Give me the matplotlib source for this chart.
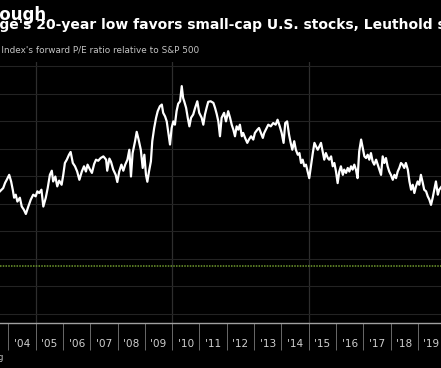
import numpy as np
import matplotlib
matplotlib.use("Agg")
import matplotlib.pyplot as plt

# Russell 2000 forward P/E relative to S&P 500
years = [2003.69, 2003.81, 2003.88, 2003.94, 2004.00, 2004.03, 2004.10, 2004.16, 2004.21, 2004.27,
         2004.33, 2004.42, 2004.49, 2004.57, 2004.64, 2004.73, 2004.82, 2004.91, 2005.00, 2005.06,
         2005.13, 2005.21, 2005.28, 2005.37, 2005.44, 2005.52, 2005.59, 2005.64, 2005.72, 2005.79,
         2005.86, 2005.95, 2006.01, 2006.07, 2006.14, 2006.22, 2006.28, 2006.36, 2006.44, 2006.52,
         2006.60, 2006.69, 2006.77, 2006.84, 2006.90, 2006.99, 2007.06, 2007.14, 2007.21, 2007.29,
         2007.38, 2007.48, 2007.58, 2007.62, 2007.70, 2007.76, 2007.84, 2007.93, 2007.99, 2008.06,
         2008.14, 2008.21, 2008.28, 2008.36, 2008.43, 2008.49, 2008.55, 2008.64, 2008.70, 2008.77,
         2008.85, 2008.92, 2008.98, 2009.04, 2009.09, 2009.15, 2009.22, 2009.27, 2009.34, 2009.41,
         2009.47, 2009.55, 2009.62, 2009.67, 2009.74, 2009.80, 2009.86, 2009.92, 2009.98, 2010.04,
         2010.10, 2010.16, 2010.22, 2010.29, 2010.35, 2010.40, 2010.44, 2010.51, 2010.57, 2010.63,
         2010.69, 2010.77, 2010.84, 2010.92, 2010.99, 2011.08, 2011.14, 2011.20, 2011.26, 2011.32,
         2011.41, 2011.51, 2011.57, 2011.63, 2011.69, 2011.75, 2011.81, 2011.90, 2011.97, 2012.05,
         2012.12, 2012.18, 2012.24, 2012.30, 2012.36, 2012.42, 2012.48, 2012.55, 2012.60, 2012.67,
         2012.75, 2012.81, 2012.89, 2012.97, 2013.03, 2013.12, 2013.18, 2013.25, 2013.32, 2013.37,
         2013.46, 2013.52, 2013.61, 2013.70, 2013.79, 2013.86, 2013.94, 2014.01, 2014.08, 2014.14,
         2014.21, 2014.28, 2014.34, 2014.40, 2014.47, 2014.53, 2014.60, 2014.66, 2014.72, 2014.78,
         2014.84, 2014.90, 2014.96, 2015.02, 2015.08, 2015.15, 2015.21, 2015.27, 2015.33, 2015.39,
         2015.45, 2015.51, 2015.57, 2015.63, 2015.70, 2015.75, 2015.82, 2015.88, 2015.94, 2016.00,
         2016.06, 2016.12, 2016.18, 2016.25, 2016.30, 2016.37, 2016.43, 2016.49, 2016.55, 2016.61,
         2016.67, 2016.73, 2016.79, 2016.85, 2016.92, 2016.98, 2017.04, 2017.10, 2017.16, 2017.22,
         2017.28, 2017.34, 2017.40, 2017.47, 2017.53, 2017.59, 2017.65, 2017.71, 2017.77, 2017.83,
         2017.89, 2017.95, 2018.01, 2018.08, 2018.14, 2018.20, 2018.26, 2018.32, 2018.38, 2018.44,
         2018.50, 2018.56, 2018.63, 2018.69, 2018.75, 2018.81, 2018.87, 2018.93, 2018.99, 2019.05,
         2019.11, 2019.18, 2019.23, 2019.30, 2019.36, 2019.42, 2019.48, 2019.54, 2019.60, 2019.66,
         2019.73, 2019.78, 2019.87]
rel_pe = [1.245, 1.257, 1.276, 1.287, 1.299, 1.305, 1.281, 1.251, 1.222, 1.233,
          1.208, 1.222, 1.190, 1.178, 1.163, 1.190, 1.215, 1.233, 1.227, 1.245,
          1.239, 1.251, 1.190, 1.222, 1.257, 1.305, 1.320, 1.281, 1.299, 1.263,
          1.284, 1.269, 1.305, 1.348, 1.360, 1.378, 1.388, 1.348, 1.336, 1.317,
          1.287, 1.317, 1.336, 1.317, 1.342, 1.324, 1.312, 1.344, 1.360, 1.356,
          1.366, 1.372, 1.360, 1.320, 1.364, 1.352, 1.324, 1.305, 1.279, 1.317,
          1.342, 1.320, 1.342, 1.360, 1.396, 1.299, 1.384, 1.427, 1.461, 1.433,
          1.396, 1.330, 1.378, 1.305, 1.280, 1.317, 1.354, 1.427, 1.475, 1.512,
          1.536, 1.554, 1.560, 1.530, 1.517, 1.499, 1.457, 1.415, 1.475, 1.499,
          1.487, 1.536, 1.563, 1.572, 1.627, 1.584, 1.572, 1.548, 1.512, 1.481,
          1.512, 1.524, 1.548, 1.572, 1.530, 1.512, 1.487, 1.524, 1.548, 1.570,
          1.572, 1.566, 1.548, 1.526, 1.499, 1.445, 1.512, 1.530, 1.499, 1.536,
          1.512, 1.487, 1.469, 1.445, 1.481, 1.469, 1.487, 1.445, 1.457, 1.439,
          1.421, 1.433, 1.445, 1.433, 1.457, 1.469, 1.475, 1.457, 1.439, 1.457,
          1.475, 1.487, 1.481, 1.493, 1.487, 1.505, 1.481, 1.457, 1.421, 1.493,
          1.499, 1.451, 1.421, 1.396, 1.427, 1.396, 1.378, 1.384, 1.348, 1.360,
          1.336, 1.342, 1.317, 1.293, 1.336, 1.384, 1.421, 1.408, 1.396, 1.408,
          1.421, 1.390, 1.360, 1.384, 1.366, 1.360, 1.372, 1.336, 1.348, 1.317,
          1.275, 1.317, 1.336, 1.305, 1.324, 1.312, 1.330, 1.317, 1.336, 1.324,
          1.342, 1.324, 1.293, 1.390, 1.433, 1.403, 1.372, 1.366, 1.378, 1.360,
          1.384, 1.354, 1.342, 1.360, 1.342, 1.324, 1.305, 1.372, 1.348, 1.366,
          1.336, 1.317, 1.305, 1.287, 1.305, 1.293, 1.317, 1.330, 1.348, 1.342,
          1.330, 1.348, 1.324, 1.281, 1.251, 1.269, 1.239, 1.263, 1.281, 1.269,
          1.305, 1.275, 1.251, 1.245, 1.227, 1.215, 1.196, 1.221, 1.251, 1.281,
          1.233, 1.251, 1.263]
ref_level = 0.975
grid_vals = [0.8, 0.9, 1.0, 1.1, 1.2, 1.3, 1.4, 1.5, 1.6, 1.7]
year_ticks = list(range(2004, 2020))
year_labels = ["'04", "'05", "'06", "'07", "'08", "'09", "'10", "'11", "'12", "'13",
               "'14", "'15", "'16", "'17", "'18", "'19"]

W, H = 441, 368
fig = plt.figure(figsize=(W / 100, H / 100), dpi=100, facecolor='black')
ax = fig.add_axes([0, 1 - 322.7 / H, 1, (322.7 - 62) / H])
ax.set_facecolor('black')

ax.set_xlim(2003.693, 2019.846)
ax.set_ylim(0.7684, 1.7145)

ax.set_yticks(grid_vals)
ax.yaxis.grid(True, color='#232323', lw=0.8)
ax.tick_params(axis='y', length=0, labelleft=False)
for yr in [2005, 2010, 2015]:
    ax.axvline(yr, color='#2e2e2e', lw=0.9, zorder=1)

ax.axhline(ref_level, color='#6f9a2e', lw=1.1, ls=(0, (1, 0.8)), zorder=2)
ax.plot(years, rel_pe, color='white', lw=1.6, zorder=3)

ax.set_xticks(year_ticks)
ax.set_xticklabels([])
ax.set_xticks([y + 0.5 for y in year_ticks], minor=True)
ax.set_xticklabels(year_labels, minor=True)
ax.tick_params(axis='x', which='major', length=19.5, width=0.7, color='#6a6a6a', direction='out')
ax.tick_params(axis='x', which='minor', length=0, pad=12, labelsize=7.6, labelcolor='#cfcfcf')

for s in ['top', 'left', 'right']:
    ax.spines[s].set_visible(False)
ax.spines['bottom'].set_color('#a0a0a0')
ax.spines['bottom'].set_linewidth(1.0)

# headline texts, cut off at the left edge as in the original
r = fig.canvas.get_renderer()


def cut_text(full, visible, x0, y, **kw):
    t1 = fig.text(0, 0, full, **kw)
    t2 = fig.text(0, 0, visible, **kw)
    off = t1.get_window_extent(r).width - t2.get_window_extent(r).width
    t1.remove()
    t2.remove()
    fig.text((x0 - off) / W, 1 - y / H, full, va='baseline', ha='left', **kw)


cut_text("Cheap Enough", "ough", -1, 19.5,
         fontsize=12, fontweight='bold', color='white', family='DejaVu Sans')
cut_text("Valuation gauge's 20-year low favors small-cap U.S. stocks, Leuthold says",
         "ge's 20-year low favors small-cap U.S. stocks, Leuthold says", -0.5, 29,
         fontsize=10.0, fontweight='bold', color='white', family='DejaVu Sans')
cut_text("Russell 2000 Index's forward P/E ratio relative to S&P 500",
         "Index's forward P/E ratio relative to S&P 500", 1.5, 52.5,
         fontsize=6.4, color='#c4c4c4', family='DejaVu Sans')
fig.text(3.5 / W, 1 - 360 / H, "Source: Bloomberg", ha='right', va='baseline',
         fontsize=6, color='#c4c4c4')

fig.savefig('out.png', dpi=100, facecolor='black')
